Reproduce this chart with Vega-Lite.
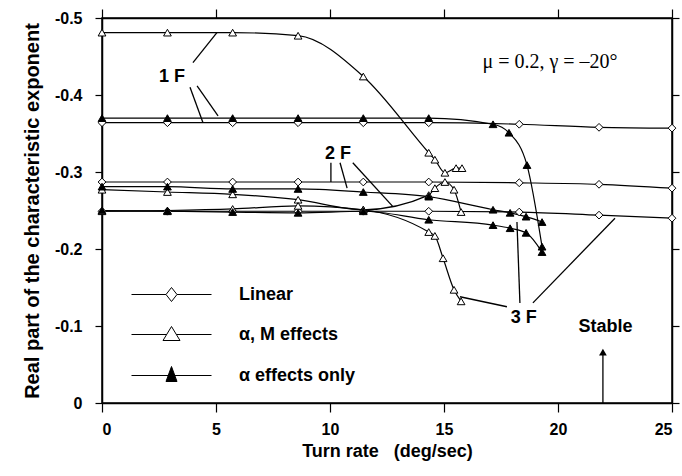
{
  "$schema": "https://vega.github.io/schema/vega-lite/v6.json",
  "width": 570,
  "height": 385,
  "autosize": "none",
  "padding": {"left": 102, "top": 18, "right": 10, "bottom": 73},
  "background": "white",
  "config": {
    "font": "Liberation Sans",
    "view": {"stroke": "black", "strokeWidth": 1.5},
    "axis": {
      "domainColor": "black", "domainWidth": 1.5, "tickColor": "black", "tickWidth": 1.2,
      "grid": false, "labelFont": "Liberation Sans", "labelFontWeight": "bold", "labelFontSize": 16,
      "labelColor": "black", "titleFont": "Liberation Sans", "titleFontWeight": "bold",
      "titleFontSize": 18, "titleColor": "black"
    }
  },
  "datasets": {
    "curves": [
      {"model": "Linear", "curve": "L1", "x": 0, "y": -0.364},
      {"model": "Linear", "curve": "L1", "x": 2.87, "y": -0.364},
      {"model": "Linear", "curve": "L1", "x": 5.73, "y": -0.364},
      {"model": "Linear", "curve": "L1", "x": 8.6, "y": -0.364},
      {"model": "Linear", "curve": "L1", "x": 11.46, "y": -0.364},
      {"model": "Linear", "curve": "L1", "x": 14.33, "y": -0.364},
      {"model": "Linear", "curve": "L1", "x": 18.3, "y": -0.362},
      {"model": "Linear", "curve": "L1", "x": 21.8, "y": -0.358},
      {"model": "Linear", "curve": "L1", "x": 25, "y": -0.357},
      {"model": "Linear", "curve": "L2", "x": 0, "y": -0.287},
      {"model": "Linear", "curve": "L2", "x": 2.87, "y": -0.287},
      {"model": "Linear", "curve": "L2", "x": 5.73, "y": -0.287},
      {"model": "Linear", "curve": "L2", "x": 8.6, "y": -0.287},
      {"model": "Linear", "curve": "L2", "x": 11.46, "y": -0.287},
      {"model": "Linear", "curve": "L2", "x": 14.33, "y": -0.287},
      {"model": "Linear", "curve": "L2", "x": 18.3, "y": -0.286},
      {"model": "Linear", "curve": "L2", "x": 21.8, "y": -0.284},
      {"model": "Linear", "curve": "L2", "x": 25, "y": -0.279},
      {"model": "Linear", "curve": "L3", "x": 0, "y": -0.249},
      {"model": "Linear", "curve": "L3", "x": 2.87, "y": -0.249},
      {"model": "Linear", "curve": "L3", "x": 5.73, "y": -0.249},
      {"model": "Linear", "curve": "L3", "x": 8.6, "y": -0.249},
      {"model": "Linear", "curve": "L3", "x": 11.46, "y": -0.249},
      {"model": "Linear", "curve": "L3", "x": 14.33, "y": -0.249},
      {"model": "Linear", "curve": "L3", "x": 18.3, "y": -0.248},
      {"model": "Linear", "curve": "L3", "x": 21.8, "y": -0.244},
      {"model": "Linear", "curve": "L3", "x": 25, "y": -0.24},
      {"model": "α, M effects", "curve": "M1", "x": 0, "y": -0.481},
      {"model": "α, M effects", "curve": "M1", "x": 2.87, "y": -0.481},
      {"model": "α, M effects", "curve": "M1", "x": 5.73, "y": -0.481},
      {"model": "α, M effects", "curve": "M1", "x": 8.6, "y": -0.477},
      {"model": "α, M effects", "curve": "M1", "x": 11.46, "y": -0.424},
      {"model": "α, M effects", "curve": "M1", "x": 14.33, "y": -0.325},
      {"model": "α, M effects", "curve": "M1", "x": 14.6, "y": -0.316},
      {"model": "α, M effects", "curve": "M1", "x": 15.04, "y": -0.299},
      {"model": "α, M effects", "curve": "M1", "x": 15.53, "y": -0.305},
      {"model": "α, M effects", "curve": "M1", "x": 15.79, "y": -0.305},
      {"model": "α, M effects", "curve": "M2", "x": 0, "y": -0.277},
      {"model": "α, M effects", "curve": "M2", "x": 2.87, "y": -0.274},
      {"model": "α, M effects", "curve": "M2", "x": 5.73, "y": -0.271},
      {"model": "α, M effects", "curve": "M2", "x": 8.6, "y": -0.264},
      {"model": "α, M effects", "curve": "M2", "x": 11.46, "y": -0.251},
      {"model": "α, M effects", "curve": "M2", "x": 14.33, "y": -0.27},
      {"model": "α, M effects", "curve": "M2", "x": 14.6, "y": -0.279},
      {"model": "α, M effects", "curve": "M2", "x": 15.04, "y": -0.287},
      {"model": "α, M effects", "curve": "M2", "x": 15.44, "y": -0.277},
      {"model": "α, M effects", "curve": "M2", "x": 15.75, "y": -0.248},
      {"model": "α, M effects", "curve": "M3", "x": 0, "y": -0.249},
      {"model": "α, M effects", "curve": "M3", "x": 2.87, "y": -0.25},
      {"model": "α, M effects", "curve": "M3", "x": 5.73, "y": -0.252},
      {"model": "α, M effects", "curve": "M3", "x": 8.6, "y": -0.256},
      {"model": "α, M effects", "curve": "M3", "x": 11.46, "y": -0.251},
      {"model": "α, M effects", "curve": "M3", "x": 14.33, "y": -0.222},
      {"model": "α, M effects", "curve": "M3", "x": 14.6, "y": -0.217},
      {"model": "α, M effects", "curve": "M3", "x": 14.96, "y": -0.188},
      {"model": "α, M effects", "curve": "M3", "x": 15.44, "y": -0.147},
      {"model": "α, M effects", "curve": "M3", "x": 15.75, "y": -0.132},
      {"model": "α effects only", "curve": "A1", "x": 0, "y": -0.37},
      {"model": "α effects only", "curve": "A1", "x": 2.87, "y": -0.37},
      {"model": "α effects only", "curve": "A1", "x": 5.73, "y": -0.37},
      {"model": "α effects only", "curve": "A1", "x": 8.6, "y": -0.37},
      {"model": "α effects only", "curve": "A1", "x": 11.46, "y": -0.37},
      {"model": "α effects only", "curve": "A1", "x": 14.33, "y": -0.37},
      {"model": "α effects only", "curve": "A1", "x": 17.15, "y": -0.362},
      {"model": "α effects only", "curve": "A1", "x": 17.85, "y": -0.351},
      {"model": "α effects only", "curve": "A1", "x": 18.64, "y": -0.309},
      {"model": "α effects only", "curve": "A1", "x": 19.3, "y": -0.203},
      {"model": "α effects only", "curve": "A2", "x": 0, "y": -0.281},
      {"model": "α effects only", "curve": "A2", "x": 2.87, "y": -0.281},
      {"model": "α effects only", "curve": "A2", "x": 5.73, "y": -0.278},
      {"model": "α effects only", "curve": "A2", "x": 8.6, "y": -0.278},
      {"model": "α effects only", "curve": "A2", "x": 11.46, "y": -0.274},
      {"model": "α effects only", "curve": "A2", "x": 14.33, "y": -0.268},
      {"model": "α effects only", "curve": "A2", "x": 17.15, "y": -0.251},
      {"model": "α effects only", "curve": "A2", "x": 17.9, "y": -0.247},
      {"model": "α effects only", "curve": "A2", "x": 18.6, "y": -0.242},
      {"model": "α effects only", "curve": "A2", "x": 19.3, "y": -0.235},
      {"model": "α effects only", "curve": "A3", "x": 0, "y": -0.25},
      {"model": "α effects only", "curve": "A3", "x": 2.87, "y": -0.249},
      {"model": "α effects only", "curve": "A3", "x": 5.73, "y": -0.248},
      {"model": "α effects only", "curve": "A3", "x": 8.6, "y": -0.247},
      {"model": "α effects only", "curve": "A3", "x": 11.46, "y": -0.249},
      {"model": "α effects only", "curve": "A3", "x": 14.33, "y": -0.238},
      {"model": "α effects only", "curve": "A3", "x": 17.15, "y": -0.231},
      {"model": "α effects only", "curve": "A3", "x": 17.9, "y": -0.227},
      {"model": "α effects only", "curve": "A3", "x": 18.6, "y": -0.221},
      {"model": "α effects only", "curve": "A3", "x": 19.3, "y": -0.196}
    ]
  },
  "layer": [
    {
      "data": {"name": "curves"},
      "mark": {"type": "line", "interpolate": "monotone", "strokeWidth": 1.2, "color": "black"},
      "encoding": {
        "x": {"field": "x", "type": "quantitative",
              "scale": {"domain": [0, 25], "nice": false, "zero": false},
              "axis": {"values": [0, 5, 10, 15, 20, 25], "tickSize": 9, "labelPadding": 9,
                       "title": "Turn rate\u00a0\u00a0\u00a0(deg/sec)", "titlePadding": 5}},
        "y": {"field": "y", "type": "quantitative",
              "scale": {"domain": [0, -0.5], "nice": false, "zero": false},
              "axis": {"values": [0, -0.1, -0.2, -0.3, -0.4, -0.5], "tickSize": 7, "labelPadding": 13,
                       "labelExpr": "datum.value == 0 ? '0' : '-' + format(-datum.value, '.1f')",
                       "title": "Real part of the characteristic exponent", "titleFontSize": 20, "titlePadding": 12}},
        "detail": {"field": "curve"}
      }
    },
    {
      "data": {"name": "curves"},
      "mark": {"type": "point", "filled": true, "stroke": "black", "strokeWidth": 1, "size": 60, "opacity": 1},
      "encoding": {
        "x": {"field": "x", "type": "quantitative",
              "axis": {"orient": "top", "values": [0, 5, 10, 15, 20, 25], "labels": false, "tickSize": 9, "title": null}},
        "y": {"field": "y", "type": "quantitative",
              "axis": {"orient": "right", "values": [0, -0.1, -0.2, -0.3, -0.4, -0.5], "labels": false, "tickSize": 7, "title": null}},
        "shape": {"field": "model", "type": "nominal",
                  "scale": {"domain": ["Linear", "α, M effects", "α effects only"], "range": ["diamond", "triangle-up", "triangle-up"]},
                  "legend": null},
        "fill": {"field": "model", "type": "nominal",
                 "scale": {"domain": ["Linear", "α, M effects", "α effects only"], "range": ["white", "white", "black"]},
                 "legend": null}
      }
    },
    {
      "data": {"name": "curves"},
      "transform": [{"filter": "false"}],
      "mark": {"type": "point", "filled": true, "stroke": "black", "strokeWidth": 1, "opacity": 1},
      "encoding": {
        "x": {"field": "x", "type": "quantitative", "axis": null},
        "y": {"field": "y", "type": "quantitative", "axis": null},
        "shape": {"field": "model", "type": "nominal",
                  "scale": {"domain": ["Linear", "α, M effects", "α effects only"],
                            "range": ["M-4,0L-0.55,0M0.55,0L4,0M0,-0.7L0.55,0L0,0.7L-0.55,0Z",
                                      "M-4,0L-0.5,0M0.5,0L4,0M0,-0.8L0.85,0.6L-0.85,0.6Z",
                                      "M-4,0L4,0M0,-0.9L0.55,0.6L-0.55,0.6Z"]},
                  "legend": {"orient": "none", "legendX": 59, "legendY": 266, "title": null, "padding": 0,
                             "symbolSize": 400, "labelOffset": 57, "rowPadding": 20,
                             "labelFontSize": 18, "labelFontWeight": "bold", "labelFont": "Liberation Sans", "labelColor": "black",
                             "symbolStrokeWidth": 1}},
        "fill": {"field": "model", "type": "nominal",
                 "scale": {"domain": ["Linear", "α, M effects", "α effects only"], "range": ["white", "white", "black"]},
                 "legend": null}
      }
    },
    {
      "data": {"values": [
        {"x": 3.99, "y": -0.442, "x2": 5.04, "y2": -0.481},
        {"x": 3.86, "y": -0.41, "x2": 4.43, "y2": -0.364},
        {"x": 4.17, "y": -0.412, "x2": 5.09, "y2": -0.373},
        {"x": 10.04, "y": -0.312, "x2": 10.04, "y2": -0.287},
        {"x": 10.44, "y": -0.312, "x2": 10.75, "y2": -0.279},
        {"x": 11.0, "y": -0.312, "x2": 12.76, "y2": -0.255},
        {"x": 17.76, "y": -0.125, "x2": 15.7, "y2": -0.138},
        {"x": 18.33, "y": -0.13, "x2": 18.2, "y2": -0.235},
        {"x": 18.9, "y": -0.13, "x2": 22.5, "y2": -0.24},
        {"x": 21.97, "y": 0, "x2": 21.97, "y2": -0.064}
      ]},
      "mark": {"type": "rule", "color": "black", "strokeWidth": 1.3},
      "encoding": {
        "x": {"field": "x", "type": "quantitative", "axis": null},
        "y": {"field": "y", "type": "quantitative", "axis": null},
        "x2": {"field": "x2"},
        "y2": {"field": "y2"}
      }
    },
    {
      "data": {"values": [{"x": 21.97, "y": -0.066}]},
      "mark": {"type": "point", "shape": "triangle-up", "filled": true, "color": "black", "size": 60, "opacity": 1},
      "encoding": {
        "x": {"field": "x", "type": "quantitative", "axis": null},
        "y": {"field": "y", "type": "quantitative", "axis": null}
      }
    },
    {
      "data": {"values": [
        {"label": "1 F", "x": 3.07, "y": -0.423},
        {"label": "2 F", "x": 10.35, "y": -0.324},
        {"label": "3 F", "x": 18.5, "y": -0.111},
        {"label": "Stable", "x": 22.08, "y": -0.099}
      ]},
      "mark": {"type": "text", "font": "Liberation Sans", "fontWeight": "bold", "fontSize": 18, "color": "black", "align": "center", "baseline": "middle"},
      "encoding": {
        "x": {"field": "x", "type": "quantitative", "axis": null},
        "y": {"field": "y", "type": "quantitative", "axis": null},
        "text": {"field": "label"}
      }
    },
    {
      "data": {"values": [{"label": "μ = 0.2, γ = –20°", "x": 19.65, "y": -0.443}]},
      "mark": {"type": "text", "font": "Liberation Serif", "fontSize": 20, "color": "black", "align": "center", "baseline": "middle"},
      "encoding": {
        "x": {"field": "x", "type": "quantitative", "axis": null},
        "y": {"field": "y", "type": "quantitative", "axis": null},
        "text": {"field": "label"}
      }
    }
  ],
  "resolve": {
    "axis": {"x": "independent", "y": "independent"},
    "scale": {"shape": "independent", "fill": "independent"}
  }
}
